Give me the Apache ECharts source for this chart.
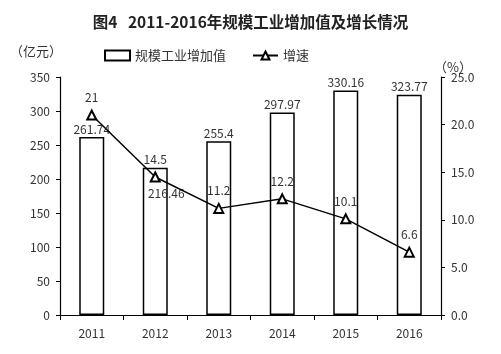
<!DOCTYPE html>
<html>
<head>
<meta charset="utf-8">
<script src="https://cdn.jsdelivr.net/npm/echarts@6/dist/echarts.min.js"></script>
<style>
html, body { margin: 0; padding: 0; background: #fff; }
#chart1 { width: 501px; height: 354px; }
</style>
</head>
<body>
<div id="chart1"></div>
<script>
var years = ['2011', '2012', '2013', '2014', '2015', '2016'];
var addedValue = [261.74, 216.46, 255.4, 297.97, 330.16, 323.77];
var growthRate = [21, 14.5, 11.2, 12.2, 10.1, 6.6];
var leftTicks = [0, 350, 50];
var rightTicks = [0, 25, 5];

var FONT = '"Noto Sans CJK SC", "Noto Sans", sans-serif';

var chart = echarts.init(document.getElementById('chart1'));

// 2012 的柱标签放在柱内，避开折线标记
var barData = addedValue.map(function (v, i) {
    if (i === 1) {
        return { value: v, label: { position: 'insideTop', offset: [11, 18] } };
    }
    return v;
});

var option = {
    backgroundColor: '#fff',
    textStyle: { fontFamily: FONT, color: '#333' },
    title: {
        text: '图4   2011-2016年规模工业增加值及增长情况',
        left: 'center',
        top: 9,
        textStyle: { fontFamily: FONT, fontSize: 15.5, fontWeight: 'bold', color: '#222' }
    },
    legend: {
        top: 44,
        left: 99,
        itemGap: 26,
        itemWidth: 25,
        itemHeight: 10,
        textStyle: { fontFamily: FONT, fontSize: 13, color: '#333' },
        data: [{ name: '规模工业增加值', icon: 'rect' }, '增速']
    },
    graphic: [
        { type: 'text', left: 10, top: 45, style: { text: '（亿元）', font: '13px ' + FONT, fill: '#333' } },
        { type: 'text', left: 434, top: 61, style: { text: '（%）', font: '13px ' + FONT, fill: '#333' } }
    ],
    grid: { left: 60, right: 60, top: 77, bottom: 39 },
    xAxis: {
        type: 'category',
        data: years,
        axisLine: { lineStyle: { color: '#000', width: 1.2 } },
        axisTick: { show: true, alignWithLabel: false, length: 5, lineStyle: { color: '#000' } },
        axisLabel: { color: '#333', fontSize: 12, margin: 12 }
    },
    yAxis: [{
        type: 'value',
        min: leftTicks[0],
        max: leftTicks[1],
        interval: leftTicks[2],
        splitLine: { show: false },
        axisLine: { show: true, lineStyle: { color: '#000', width: 1.2 } },
        axisTick: { show: true, length: 4, lineStyle: { color: '#000' } },
        axisLabel: { color: '#333', fontSize: 12, margin: 10 }
    }, {
        type: 'value',
        min: rightTicks[0],
        max: rightTicks[1],
        interval: rightTicks[2],
        splitLine: { show: false },
        axisLine: { show: true, lineStyle: { color: '#000', width: 1.2 } },
        axisTick: { show: true, length: 4, lineStyle: { color: '#000' } },
        axisLabel: {
            color: '#333', fontSize: 12, margin: 10,
            formatter: function (v) { return v.toFixed(1); }
        }
    }],
    series: [{
        name: '规模工业增加值',
        type: 'bar',
        barWidth: 25,
        data: barData,
        itemStyle: { color: '#fff', borderColor: '#000', borderWidth: 1.5 },
        label: { show: true, position: 'top', distance: 2, color: '#333', fontSize: 12 }
    }, {
        name: '增速',
        type: 'line',
        yAxisIndex: 1,
        data: growthRate,
        symbol: 'triangle',
        symbolSize: 9,
        lineStyle: { color: '#000', width: 1.5 },
        itemStyle: { color: '#fff', borderColor: '#000', borderWidth: 2 },
        label: { show: true, position: 'top', distance: 6, color: '#333', fontSize: 12 }
    }]
};

chart.setOption(option);
</script>
</body>
</html>
